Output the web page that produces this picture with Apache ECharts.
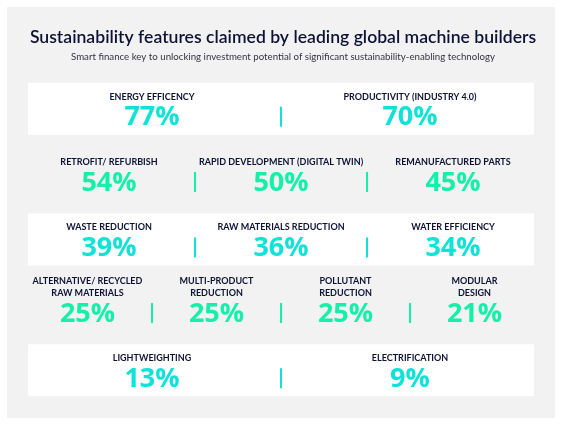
<!DOCTYPE html>
<html>
<head>
<meta charset="utf-8">
<script src="https://cdn.jsdelivr.net/npm/echarts@6/dist/echarts.min.js"></script>
<style>
  html, body { margin: 0; background: #fff; }
  #chart { width: 566px; height: 431px; }
</style>
</head>
<body>
<div id="chart"></div>
<script>
// ===== Data =====
const features = [
  'ENERGY EFFICENCY', 'PRODUCTIVITY (INDUSTRY 4.0)',
  'RETROFIT/ REFURBISH', 'RAPID DEVELOPMENT (DIGITAL TWIN)', 'REMANUFACTURED PARTS',
  'WASTE REDUCTION', 'RAW MATERIALS REDUCTION', 'WATER EFFICIENCY',
  'ALTERNATIVE/ RECYCLED\nRAW MATERIALS', 'MULTI-PRODUCT\nREDUCTION', 'POLLUTANT\nREDUCTION', 'MODULAR\nDESIGN',
  'LIGHTWEIGHTING', 'ELECTRIFICATION'
];
const shares = [77, 70, 54, 50, 45, 39, 36, 34, 25, 25, 25, 21, 13, 9];
const rowSizes = [2, 3, 3, 4, 2];   // how many features sit on each row
const rowNames = ['r1', 'r2', 'r3', 'r4', 'r5'];

// ===== Colours =====
const NAVY = '#0d1235';
const CYAN = '#10e2d8';
const GREEN = '#14f0aa';

// place features on rows: [x slot centre, row, share, label, column, columns in row]
const items = [];
let k = 0;
rowSizes.forEach((n, r) => {
  for (let c = 0; c < n; c++, k++) {
    items.push([(c + 0.5) / n, r, shares[k], features[k], c, n]);
  }
});
const bandRows = rowNames.map((_, r) => r).filter(r => r % 2 === 0);

const chart = echarts.init(document.getElementById('chart'), null, { renderer: 'canvas' });

chart.setOption({
  backgroundColor: '#ffffff',
  animation: false,
  graphic: [{
    type: 'rect', z: -10, silent: true,
    shape: { x: 7, y: 7, width: 548, height: 411 },
    style: { fill: '#f2f2f2' }
  }],
  title: {
    text: 'Sustainability features claimed by leading global machine builders',
    subtext: 'Smart finance key to unlocking investment potential of significant sustainability-enabling technology',
    left: 'center', top: 28, padding: 0, itemGap: 6,
    textStyle: { fontFamily: 'Lato', fontSize: 17.6, fontWeight: 600, color: NAVY },
    subtextStyle: { fontFamily: 'Lato', fontSize: 9.7, color: '#333344' }
  },
  grid: { left: 23, right: 27, top: 84, bottom: 20 },
  xAxis: { type: 'value', min: 0, max: 1, show: false },
  yAxis: { type: 'category', data: rowNames, inverse: true, show: false },
  series: [
    {
      // white bands behind every other row
      type: 'custom', silent: true, z: 1,
      data: bandRows.map(r => [0.5, r]),
      renderItem(params, api) {
        const y = api.coord([0.5, api.value(1)])[1];
        return {
          type: 'rect',
          shape: { x: 28, y: y - 34, width: 506, height: 52 },
          style: { fill: '#ffffff' }
        };
      }
    },
    {
      type: 'custom', silent: true, z: 2,
      data: items,
      renderItem(params, api) {
        const row = api.value(1), col = api.value(4), n = api.value(5);
        const [x, y] = api.coord([api.value(0), row]);
        const color = row % 2 === 0 ? CYAN : GREEN;
        const children = [
          {
            type: 'text',
            style: {
              x, y: y - 14, text: items[params.dataIndex][3],
              align: 'center', verticalAlign: 'bottom',
              fontFamily: 'Lato', fontSize: 9, fontWeight: 'bold', lineHeight: 12, fill: NAVY
            }
          },
          {
            type: 'text',
            style: {
              x, y: y + 1, text: api.value(2) + '%',
              align: 'center', verticalAlign: 'middle',
              fontFamily: 'Open Sans', fontSize: 27, fontWeight: 'bold', fill: color
            }
          }
        ];
        if (col > 0) {
          const dx = api.coord([col / n, row])[0];
          children.push({
            type: 'line',
            shape: { x1: dx, y1: y - 10, x2: dx, y2: y + 10 },
            style: { stroke: color, lineWidth: 2 }
          });
        }
        return { type: 'group', children };
      }
    }
  ]
});
</script>
</body>
</html>
